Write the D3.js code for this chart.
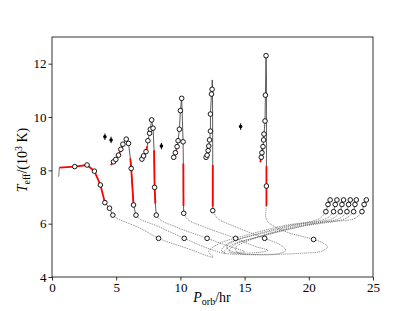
<!DOCTYPE html>
<html><head><meta charset="utf-8">
<script src="https://cdn.jsdelivr.net/npm/d3@7"></script>
<style>body{margin:0;background:#fff}svg{display:block}text{font-family:"Liberation Serif","DejaVu Serif",serif}</style>
</head><body><svg id="c" width="415" height="311"></svg>
<script>
const xTicks=[0,5,10,15,20,25];
const yTicks=[4,6,8,10,12];
// observed systems
const obsP=[4.12,4.6,8.52,14.69];
const obsT=[9.26,9.14,8.91,9.64];
const obsErr=[0.12,0.12,0.12,0.12];
// Track A
const aThin=[[0.52,7.76],[0.57,8.1]];
const aRed=[[[0.57,8.1],[1.77,8.14],[2.73,8.2],[3.3,7.97],[3.77,7.45],[4.12,6.79]]];
const aLine=[[4.12,6.79],[4.48,6.58],[4.74,6.32]];
const aDots=[[4.74,6.32],[5.05,6.2],[5.83,6.04],[6.87,5.83],[8.3,5.45],[10.5,5.08],[12.55,4.75],[12.2,4.95],[13.0,5.25],[15.0,5.55],[18.0,5.92],[20.8,6.18],[21.33,6.45]];
const aCirc=[[1.77,8.14],[2.73,8.2],[3.3,7.97],[3.77,7.45],[4.12,6.79],[4.48,6.58],[4.74,6.32],[8.3,5.45]];
// Track B
const bRed=[[[4.58,8.2],[4.79,8.32],[4.97,8.41],[5.18,8.57],[5.36,8.79],[5.5,8.92]],[[6.1,8.45],[6.17,8.07],[6.35,6.7]]];
const bLine=[[5.5,8.92],[5.52,8.98],[5.78,9.17],[5.96,9.01],[6.1,8.45],[6.17,8.07],[6.35,6.7],[6.54,6.32]];
const bDots=[[6.54,6.32],[6.87,6.16],[8.0,5.95],[10.3,5.45],[12.0,5.1],[13.5,4.88],[13.2,5.0],[13.8,5.28],[15.5,5.55],[18.4,5.92],[21.4,6.2],[21.93,6.45]];
const bCirc=[[4.79,8.32],[4.97,8.41],[5.18,8.57],[5.36,8.79],[5.52,8.98],[5.78,9.17],[5.96,9.01],[6.17,8.07],[6.35,6.7],[6.54,6.32],[10.3,5.45]];
// Track C
const cRed=[[[6.93,8.35],[7.0,8.42],[7.13,8.54],[7.32,8.7],[7.42,8.9]],[[7.95,8.75],[7.99,7.36],[8.05,6.75]]];
const cLine=[[7.42,8.9],[7.47,9.11],[7.6,9.39],[7.66,9.54],[7.76,9.89],[7.87,9.58],[7.95,8.75],[7.99,7.36],[8.05,6.75],[8.12,6.32]];
const cDots=[[8.12,6.32],[8.44,6.14],[9.8,5.85],[12.08,5.45],[13.8,5.15],[15.0,4.95],[14.0,4.95],[13.6,5.15],[14.5,5.4],[16.5,5.65],[19.0,5.95],[21.9,6.2],[22.45,6.45]];
const cCirc=[[7.0,8.42],[7.13,8.54],[7.32,8.7],[7.47,9.11],[7.6,9.39],[7.66,9.54],[7.76,9.89],[7.87,9.58],[7.99,7.36],[8.12,6.32],[12.08,5.45]];
// Track D
const dRed=[[[9.4,8.41],[9.48,8.49],[9.61,8.66],[9.7,8.78]],[[10.23,8.26],[10.24,6.66]]];
const dLine=[[9.7,8.78],[9.74,8.89],[9.82,9.11],[9.92,9.54],[10.0,10.24],[10.1,10.7],[10.21,9.07],[10.23,8.26],[10.24,6.66],[10.26,6.39]];
const dDots=[[10.26,6.39],[10.6,6.15],[12.0,5.85],[14.3,5.45],[15.8,5.15],[16.8,5.0],[15.5,4.9],[13.8,4.95],[14.2,5.2],[16.0,5.5],[19.0,5.9],[22.4,6.2],[22.97,6.45]];
const dCirc=[[9.48,8.49],[9.61,8.66],[9.74,8.89],[9.82,9.11],[9.92,9.54],[10.0,10.24],[10.1,10.7],[10.21,9.07],[10.26,6.39],[14.3,5.45]];
// Track E
const eRed=[[[11.95,8.4],[12.0,8.49],[12.08,8.57],[12.13,8.68]],[[12.52,8.2],[12.52,6.64]]];
const eLine=[[12.13,8.68],[12.16,8.74],[12.21,8.91],[12.27,9.14],[12.34,9.47],[12.34,10.11],[12.42,10.86],[12.47,11.04],[12.48,11.39],[12.5,11.0],[12.52,8.2],[12.52,6.64],[12.52,6.49]];
const eDots=[[12.52,6.49],[12.9,6.2],[14.3,5.88],[16.56,5.45],[17.8,5.2],[18.2,5.0],[17.5,4.86],[15.0,4.85],[13.4,4.92],[14.0,5.2],[16.5,5.55],[19.5,5.9],[22.9,6.2],[23.49,6.45]];
const eCirc=[[12.0,8.49],[12.08,8.57],[12.16,8.74],[12.21,8.91],[12.27,9.14],[12.34,9.47],[12.34,10.11],[12.42,10.86],[12.47,11.04],[12.52,6.49],[16.56,5.45]];
// Track F
const fRed=[[[16.22,8.3],[16.3,8.49],[16.35,8.66],[16.4,8.8]],[[16.7,8.16],[16.7,6.66]]];
const fLine=[[16.4,8.8],[16.43,8.89],[16.48,9.14],[16.51,9.36],[16.59,9.85],[16.62,10.82],[16.67,12.3],[16.7,11.5],[16.7,8.16]];
const fDots=[[16.7,6.66],[16.7,6.15],[17.3,5.9],[18.5,5.65],[20.37,5.41],[21.2,5.25],[21.46,5.13],[21.0,4.97],[19.4,4.89],[16.5,4.85],[14.5,4.9],[14.3,5.1],[15.5,5.4],[18.0,5.75],[21.0,6.05],[23.6,6.2],[24.14,6.45]];
const fCirc=[[16.3,8.49],[16.35,8.66],[16.43,8.89],[16.48,9.14],[16.51,9.36],[16.59,9.85],[16.62,10.82],[16.67,12.3],[16.7,7.41],[20.37,5.41]];
// initial (long-period) clusters
const startP=[21.33,21.93,22.45,22.97,23.49,24.14];
const startPtop=[21.66,22.19,22.71,23.23,23.7,24.48];
const startT=[6.45,6.72,6.89];

const svg=d3.select("#c");
const x=d3.scaleLinear().domain([0,25]).range([52,373]);
const y=d3.scaleLinear().domain([4,13]).range([277,37]);
const line=d3.line().x(d=>x(d[0])).y(d=>y(d[1]));
const cline=d3.line().x(d=>x(d[0])).y(d=>y(d[1])).curve(d3.curveCatmullRom.alpha(0.5));

const g=svg.append("g");
const dotsAll=[aDots,bDots,cDots,dDots,eDots,fDots];
dotsAll.forEach(d=>g.append("path").attr("d",cline(d)).attr("fill","none").attr("stroke","#333").attr("stroke-width",0.6).attr("stroke-dasharray","1,0.9"));
// start clusters
startP.forEach((p,i)=>{
  const pts=[[p,startT[0]],[(p+startPtop[i])/2,startT[1]],[startPtop[i],startT[2]]];
  g.append("path").attr("d",line(pts)).attr("fill","none").attr("stroke","#444").attr("stroke-width",0.7);
  pts.forEach(q=>g.append("circle").attr("cx",x(q[0])).attr("cy",y(q[1])).attr("r",2.3).attr("fill","#fff").attr("stroke","#000").attr("stroke-width",0.9));
});
g.append("path").attr("d",line(aThin)).attr("fill","none").attr("stroke","#555").attr("stroke-width",0.8);
[aLine,bLine,cLine,dLine,eLine,fLine].forEach(d=>g.append("path").attr("d",line(d)).attr("fill","none").attr("stroke","#333").attr("stroke-width",0.8));
[aRed,bRed,cRed,dRed,eRed,fRed].forEach(segs=>segs.forEach(s=>g.append("path").attr("d",line(s)).attr("fill","none").attr("stroke","#f00").attr("stroke-width",1.8)));
[aCirc,bCirc,cCirc,dCirc,eCirc,fCirc].forEach(cs=>cs.forEach(q=>g.append("circle").attr("cx",x(q[0])).attr("cy",y(q[1])).attr("r",2.3).attr("fill","#fff").attr("stroke","#000").attr("stroke-width",0.9)));
// observations
obsP.forEach((p,i)=>{
  g.append("line").attr("x1",x(p)).attr("x2",x(p)).attr("y1",y(obsT[i]-obsErr[i])).attr("y2",y(obsT[i]+obsErr[i])).attr("stroke","#000").attr("stroke-width",1);
  g.append("circle").attr("cx",x(p)).attr("cy",y(obsT[i])).attr("r",1.8).attr("fill","#000");
});

// axes
const ax=svg.append("g").attr("transform","translate(0,277)").call(d3.axisBottom(x).tickValues(xTicks).tickSize(3.5).tickPadding(2));
const ay=svg.append("g").attr("transform","translate(52,0)").call(d3.axisLeft(y).tickValues(yTicks).tickSize(3.5).tickPadding(2));
[ax,ay].forEach(a=>{a.select(".domain").remove();a.selectAll("text").attr("font-family","Liberation Serif").attr("font-size",13).attr("fill","#000");a.selectAll("line").attr("stroke","#000").attr("stroke-width",0.8);});
svg.append("rect").attr("x",52).attr("y",37).attr("width",321).attr("height",240).attr("fill","none").attr("stroke","#000").attr("stroke-width",0.8);

// labels
const xl=svg.append("text").attr("x",212).attr("y",302).attr("text-anchor","middle").attr("font-size",14);
xl.append("tspan").attr("font-style","italic").text("P");
xl.append("tspan").attr("font-size",10).attr("dy",3).text("orb");
xl.append("tspan").attr("dy",-3).text("/hr");
const yl=svg.append("text").attr("transform","translate(27,160) rotate(-90)").attr("text-anchor","middle").attr("font-size",14);
yl.append("tspan").attr("font-style","italic").text("T");
yl.append("tspan").attr("font-size",10).attr("dy",3).text("eff");
yl.append("tspan").attr("dy",-3).text("/(10");
yl.append("tspan").attr("font-size",10).attr("dy",-5).text("3");
yl.append("tspan").attr("dy",5).text(" K)");
</script></body></html>
